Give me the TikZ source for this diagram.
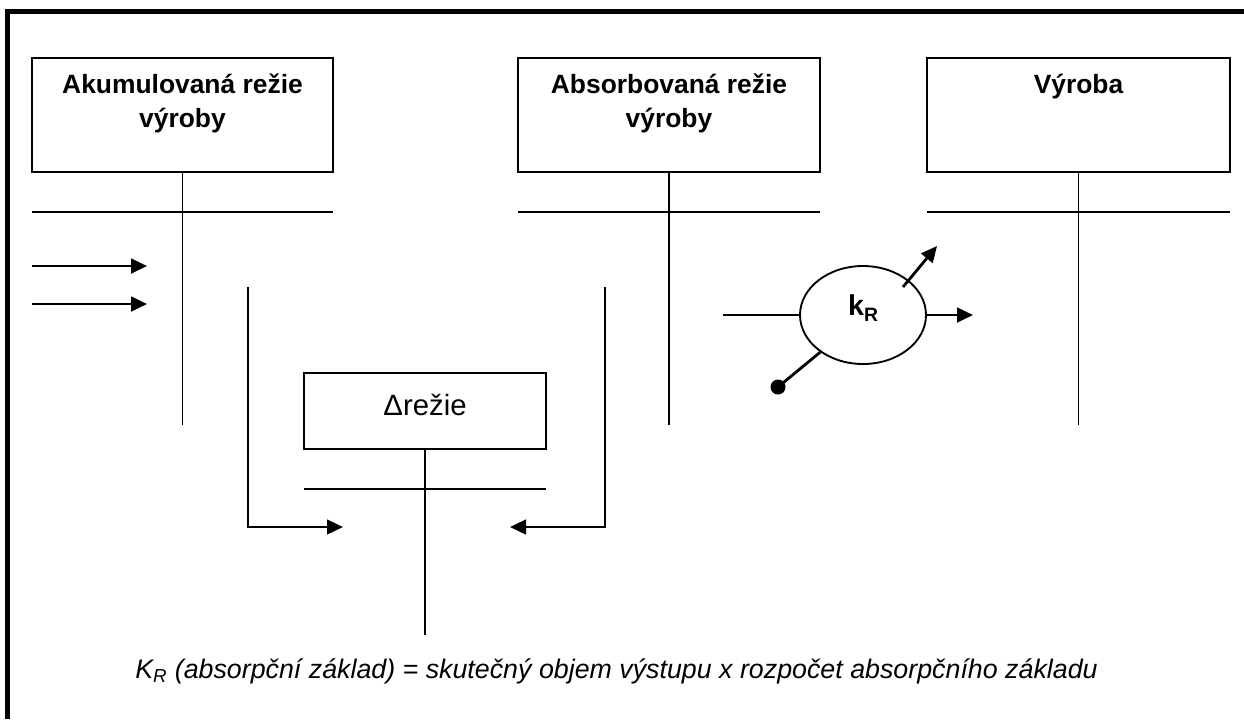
\documentclass[tikz,border=0pt]{standalone}
\usepackage{fontspec}
\setmainfont{Liberation Sans}
\usetikzlibrary{arrows.meta,shapes.geometric}

\begin{document}
\begin{tikzpicture}[x=0.75pt,y=-0.75pt,
  acct/.style={draw, rectangle, line width=1.4pt, inner sep=0pt},
  ttl/.style={font=\fontsize{19.8pt}{25.5pt}\selectfont\bfseries, align=center, anchor=base, inner sep=0pt},
  tline/.style={line width=1.4pt},
  flow/.style={line width=2.1pt, -{Triangle[length=12pt,width=11pt]}},
  elbow/.style={line width=1.8pt, -{Triangle[length=12pt,width=11pt]}}
]
\useasboundingbox (0,0) rectangle (1244,719);

% frame: left and top edges only
\draw[line width=3.75pt] (7.5,719) -- (7.5,11.5) -- (1250,11.5);

% T-accounts
\node[acct, minimum width=225.75pt, minimum height=85.5pt] (A) at (182.5,115) {};
\node[acct, minimum width=226.5pt, minimum height=85.5pt] (B) at (669,115) {};
\node[acct, minimum width=227.25pt, minimum height=85.5pt] (C) at (1078.5,115) {};
\node[ttl] (At) at (182.5,127) {Akumulovaná režie\\výroby};
\node[ttl] (Bt) at (669,127) {Absorbovaná režie\\výroby};
\node[ttl] (Ct) at (1078.5,93) {Výroba};

\coordinate (Ae) at (182.5,425);
\coordinate (Be) at (669,425);
\coordinate (Ce) at (1078.5,425);
\draw[tline] (A.south) -- (Ae);
\draw[tline] (B.south) -- (Be);
\draw[tline] (C.south) -- (Ce);
\draw[tline] (32,212) -- (333,212);
\draw[tline] (518,212) -- (820,212);
\draw[tline] (927,212) -- (1230,212);

% inflows to the left account
\coordinate (i1s) at (32,266);  \coordinate (i1e) at (147,266);
\coordinate (i2s) at (32,304);  \coordinate (i2e) at (147,304);
\draw[flow] (i1s) -- (i1e);
\draw[flow] (i2s) -- (i2e);

% difference account
\node[acct, minimum width=181.5pt, minimum height=57pt, font=\fontsize{22pt}{26pt}\selectfont,
      text height=12pt, text depth=6pt] (D) at (425,411) {Δrežie};
\coordinate (De) at (425,635);
\draw[tline] (D.south) -- (De);
\draw[tline] (304,489) -- (546,489);

\coordinate (Ls) at (248,287); \coordinate (Le) at (343,527);
\coordinate (Rs) at (605,287); \coordinate (Re) at (510,527);
\draw[elbow] (Ls) |- (Le);
\draw[elbow] (Rs) |- (Re);

% absorption rate
\node[draw, ellipse, line width=1.4pt, minimum width=94.5pt, minimum height=73.5pt, inner sep=0pt,
      text height=8pt, text depth=8pt] (K) at (863,315)
  {\fontsize{21.5pt}{24pt}\selectfont\bfseries k\raisebox{-5pt}{\fontsize{14.5pt}{16pt}\selectfont R}};
\coordinate (Kin) at (723,315);
\coordinate (Kout) at (973,315);
\coordinate (Kds) at (903,287);
\coordinate (Kde) at (937,246);
\coordinate (Kdot) at (778,387);
\draw[tline] (Kin) -- (K.west);
\draw[flow] (K.east) -- (Kout);
\draw[flow] (Kds) -- (Kde);
\draw[line width=2.1pt] (K.221) -- (Kdot);
\fill (Kdot) circle[radius=7.5];

% formula
\node[anchor=base, inner sep=0pt, font=\fontsize{20.1pt}{23pt}\selectfont\itshape] (F) at (616.5,678)
  {K\textsubscript{R} (absorpční základ) = skutečný objem výstupu x rozpočet absorpčního základu};
\end{tikzpicture}
\end{document}
